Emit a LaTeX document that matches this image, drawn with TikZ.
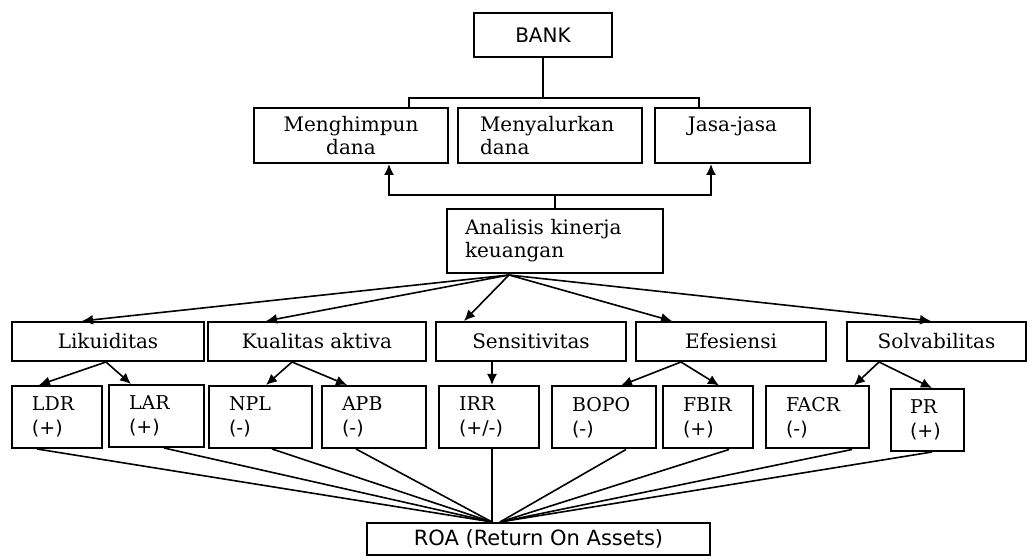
\documentclass[tikz,border=0pt]{standalone}
\usepackage{fontspec}
\setmainfont{DejaVu Serif}
\newfontfamily\sansf{DejaVu Sans}
\usetikzlibrary{arrows.meta,calc}
\begin{document}
\begin{tikzpicture}[x=0.5pt,y=-0.5pt,
  box/.style={draw,line width=1pt,inner sep=0pt,font=\fontsize{10}{11.5}\selectfont},
  midbox/.style={box,minimum height=19.5pt},
  leaf/.style={box,align=left,inner xsep=10pt,minimum height=31pt,font=\fontsize{9.5}{12}\selectfont},
  conn/.style={line width=0.8pt},
  arr/.style={conn,-{Latex[length=5.5pt,width=5pt]}}]
\useasboundingbox (0,0) rectangle (1030,560);
% top
\node[box,font=\sansf\fontsize{10}{12}\selectfont,minimum width=69pt,minimum height=22pt] (bank) at (543,35) {BANK};
\node[box,align=center,minimum width=97pt,minimum height=27.5pt] (mh) at (351,135.5) {Menghimpun\\dana};
\node[box,align=left,text width=70pt,inner xsep=11pt,minimum height=27.5pt] (my) at (550,135.5) {Menyalurkan\\dana};
\node[box,align=center,minimum width=77.5pt,minimum height=27.5pt] (js) at (732.5,135.5) {Jasa-jasa\\~};
\node[box,align=left,text width=90pt,inner xsep=9pt,minimum height=32pt] (an) at (555,241) {Analisis kinerja\\keuangan};
% level 3
\node[midbox,minimum width=96pt] (lk) at (108,341.5) {Likuiditas};
\node[midbox,minimum width=109pt] (ka) at (317,341.5) {Kualitas aktiva};
\node[midbox,minimum width=95pt] (se) at (531,341.5) {Sensitivitas};
\node[midbox,minimum width=95pt] (ef) at (731,341.5) {Efesiensi};
\node[midbox,minimum width=89.5pt] (so) at (936.5,341.5) {Solvabilitas};
% level 4
\node[leaf,text width=25pt] (ldr) at (57,417) {LDR\\{\sansf (+)}};
\node[leaf,text width=27.5pt] (lar) at (156.5,416) {LAR\\{\sansf (+)}};
\node[leaf,text width=31.5pt] (npl) at (260.5,417) {NPL\\{\sansf (-)}};
\node[leaf,text width=32pt] (apb) at (374,417) {APB\\{\sansf (-)}};
\node[leaf,text width=30pt,inner xsep=10pt] (irr) at (489,417) {IRR\\{\sansf (+/-)}};
\node[leaf,text width=32pt] (bopo) at (604,417.5) {BOPO\\{\sansf (-)}};
\node[leaf,text width=25pt,inner xsep=10pt] (fbir) at (708,417.5) {FBIR\\{\sansf (+)}};
\node[leaf,text width=31.5pt] (facr) at (817.5,417.5) {FACR\\{\sansf (-)}};
\node[leaf,text width=17.5pt,inner xsep=9.5pt] (pr) at (927.5,420) {PR\\{\sansf (+)}};
% bottom
\node[box,font=\sansf\fontsize{10.5}{12}\selectfont,minimum width=171.5pt,minimum height=16pt] (roa) at (538.5,539) {ROA (Return On Assets)};
% connectors top
\draw[conn] (bank.south) -- ++(0,40) coordinate (bj);
\draw[conn] ($(mh.north west)+(156,0)$) |- (bj) -| ($(js.north west)+(45,0)$);
\draw[conn] (an.north) -- ++(0,-13) coordinate (aj);
\draw[arr] (aj) -| ($(mh.south west)+(136,0)$);
\draw[arr] (aj) -| ($(js.south west)+(57,0)$);
% analisis to level 3
\coordinate (ao) at ($(an.south west)+(63,1)$);
\draw[arr] (ao) -- ($(lk.north west)+(71,0)$);
\draw[arr] (ao) -- ($(ka.north west)+(59,0)$);
\draw[arr] (ao) -- ($(se.north west)+(29,0)$);
\draw[arr] (ao) -- ($(ef.north west)+(37,0)$);
\draw[arr] (ao) -- ($(so.north west)+(85,0)$);
% level 3 to level 4
\draw[arr] ($(lk.south west)+(95,0)$) -- ($(ldr.north west)+(28,0)$);
\draw[arr] ($(lk.south west)+(95,0)$) -- ($(lar.north west)+(23,0)$);
\draw[arr] ($(ka.south west)+(85,0)$) -- ($(npl.north west)+(58,0)$);
\draw[arr] ($(ka.south west)+(85,0)$) -- ($(apb.north west)+(26,0)$);
\draw[arr] ($(se.south west)+(57,0)$) -- ($(irr.north west)+(54,0)$);
\draw[arr] ($(ef.south west)+(46,0)$) -- ($(bopo.north west)+(70,0)$);
\draw[arr] ($(ef.south west)+(46,0)$) -- ($(fbir.north west)+(57,0)$);
\draw[arr] ($(so.south west)+(33,0)$) -- ($(facr.north west)+(89,0)$);
\draw[arr] ($(so.south west)+(33,0)$) -- ($(pr.north west)+(42,0)$);
% level 4 to ROA
\coordinate (rl) at ($(roa.north west)+(126,0)$);
\coordinate (rr) at ($(roa.north west)+(134,0)$);
\draw[conn] ($(ldr.south west)+(26,0)$) -- (rl);
\draw[conn] ($(lar.south west)+(56,0)$) -- (rl);
\draw[conn] ($(npl.south west)+(64,0)$) -- (rl);
\draw[conn] ($(apb.south west)+(35,0)$) -- (rl);
\draw[conn] ($(irr.south west)+(54,0)$) -- (rl);
\draw[conn] ($(bopo.south west)+(75,0)$) -- (rr);
\draw[conn] ($(fbir.south west)+(67,0)$) -- (rr);
\draw[conn] ($(facr.south west)+(87,0)$) -- (rr);
\draw[conn] ($(pr.south west)+(42,0)$) -- (rr);
\end{tikzpicture}
\end{document}
